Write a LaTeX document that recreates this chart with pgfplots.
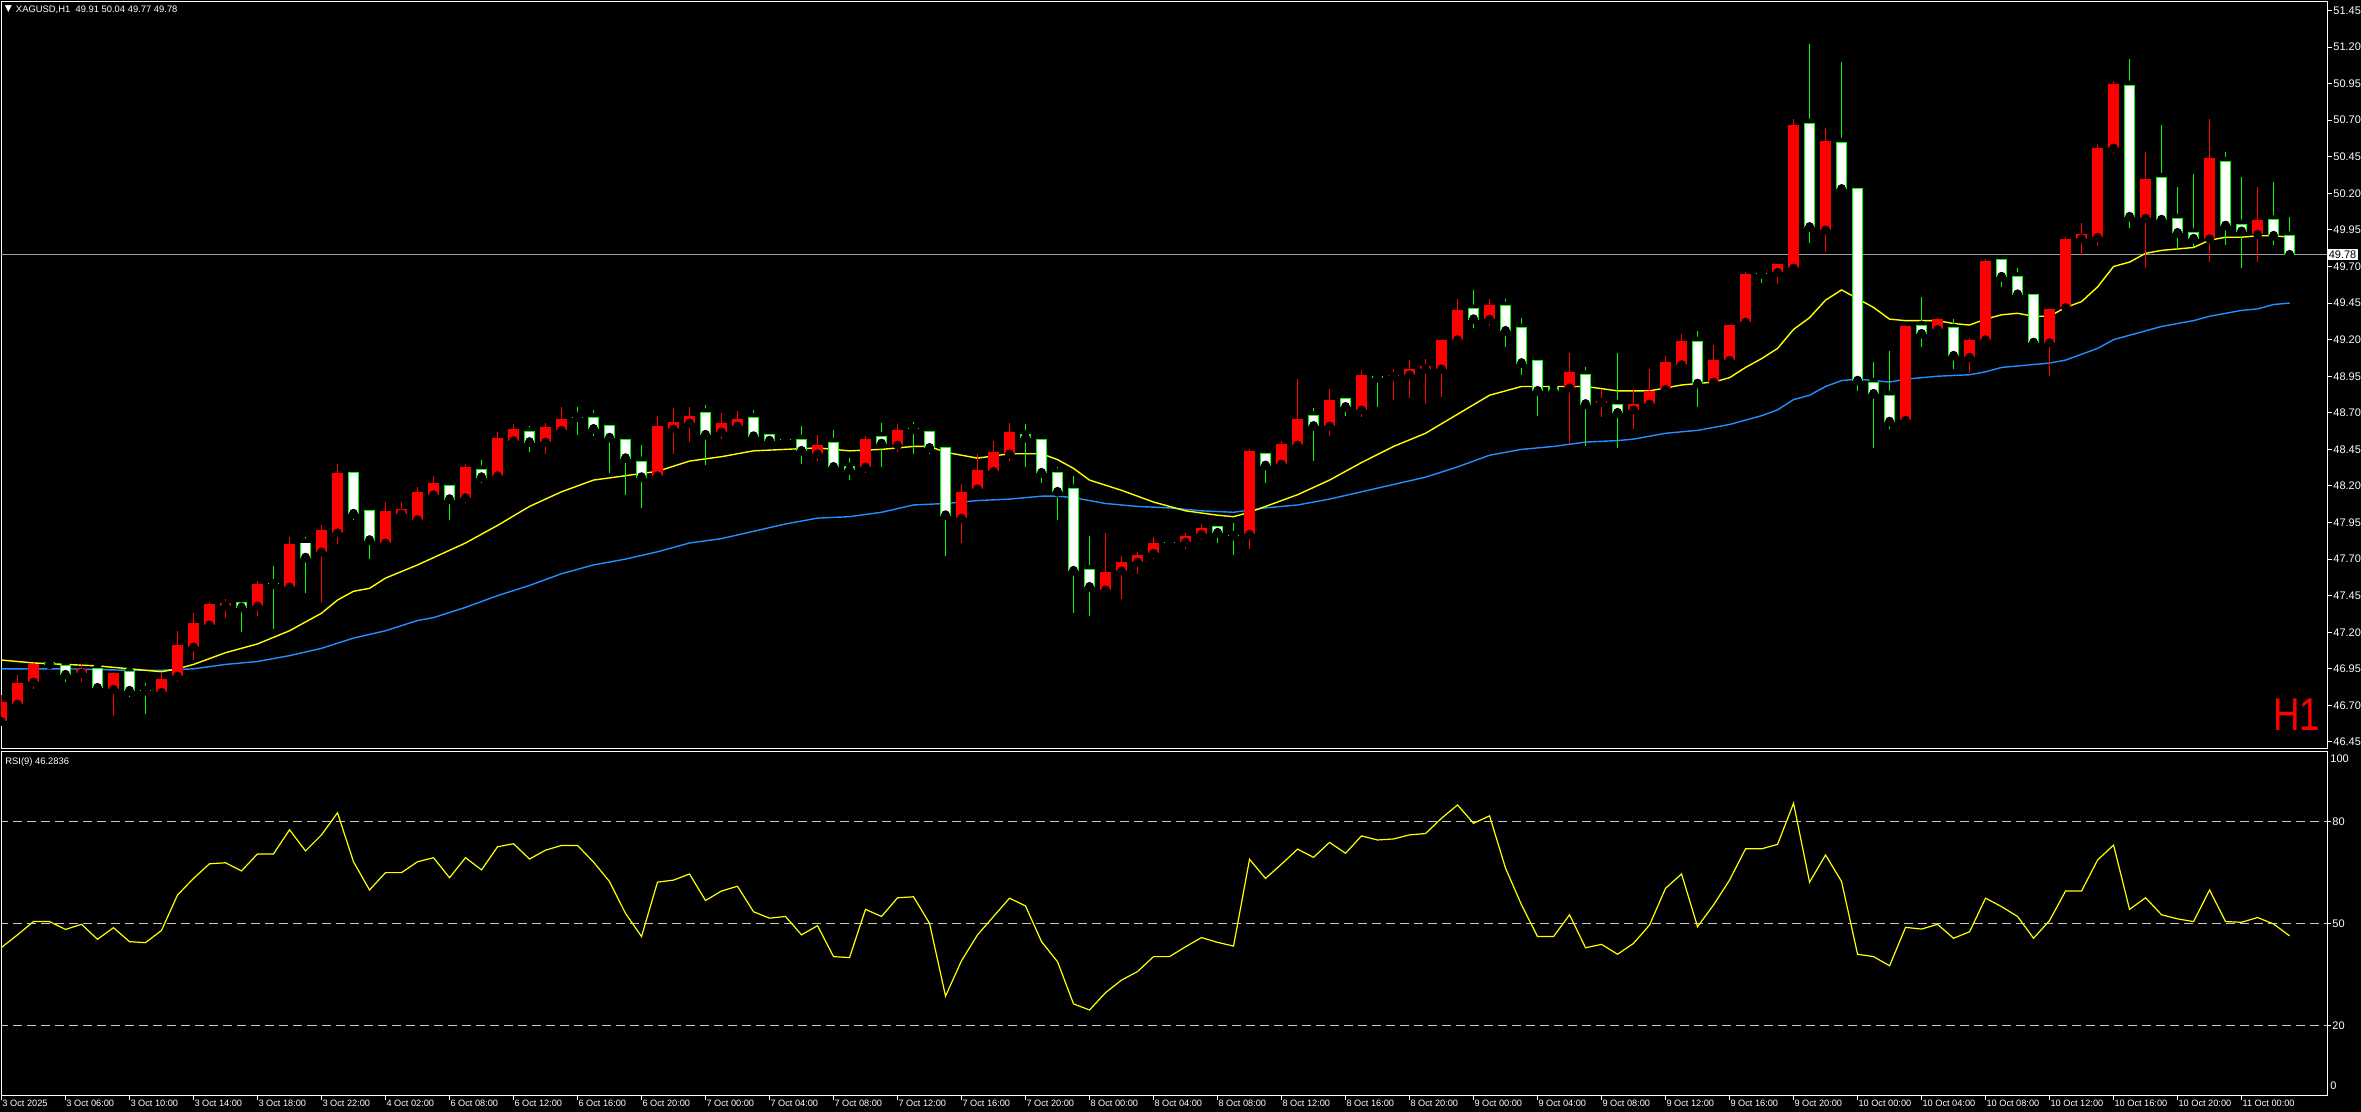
\documentclass[border=0pt]{standalone}
\usepackage{fontspec}
\setmainfont{Liberation Sans}
\newfontfamily\dejavu{DejaVu Sans}
\usepackage{graphicx}
\usepackage{pgfplots}
\usepackage{pgfplotstable}
\pgfplotsset{compat=1.18}

\definecolor{maYellow}{RGB}{255,255,0}
\definecolor{maBlue}{RGB}{30,144,255}
\definecolor{bullRed}{RGB}{255,0,0}
\definecolor{bearEdge}{RGB}{0,255,0}
\definecolor{priceLine}{RGB}{160,160,160}
\definecolor{levelGray}{RGB}{200,200,200}

% candles: i open high low close
\pgfplotstableread{
i o h l c
0 46.59 46.77 46.59 46.72
1 46.71 46.91 46.70 46.85
2 46.86 46.99 46.81 46.98
5 46.92 46.98 46.86 46.95
7 46.81 46.93 46.63 46.92
10 46.79 46.92 46.79 46.88
11 46.90 47.21 46.86 47.11
12 47.10 47.33 47.01 47.26
13 47.25 47.41 47.23 47.39
14 47.38 47.43 47.30 47.40
16 47.38 47.55 47.31 47.53
18 47.51 47.85 47.51 47.80
20 47.75 47.93 47.40 47.90
21 47.88 48.35 47.80 48.29
24 47.81 48.09 47.79 48.03
25 48.01 48.09 48.00 48.04
26 47.97 48.19 47.94 48.16
27 48.14 48.27 48.11 48.22
29 48.12 48.35 48.08 48.33
31 48.27 48.57 48.24 48.53
32 48.51 48.62 48.50 48.59
34 48.50 48.63 48.42 48.60
35 48.58 48.74 48.55 48.655
41 48.27 48.68 48.24 48.61
42 48.59 48.73 48.42 48.64
43 48.63 48.74 48.50 48.68
45 48.57 48.70 48.52 48.63
46 48.61 48.71 48.61 48.655
51 48.42 48.55 48.37 48.48
54 48.33 48.54 48.29 48.52
56 48.48 48.62 48.43 48.58
60 47.98 48.21 47.81 48.16
61 48.18 48.42 48.18 48.31
62 48.30 48.51 48.30 48.43
63 48.42 48.63 48.37 48.57
69 47.49 47.88 47.49 47.61
70 47.62 47.72 47.43 47.68
71 47.68 47.75 47.60 47.73
72 47.74 47.85 47.70 47.81
74 47.815 47.88 47.77 47.86
75 47.87 47.94 47.83 47.91
78 47.87 48.45 47.77 48.44
80 48.35 48.51 48.35 48.49
81 48.48 48.93 48.46 48.66
83 48.61 48.86 48.54 48.79
85 48.72 48.99 48.67 48.96
87 48.95 49.00 48.79 48.96
88 48.96 49.06 48.80 49.00
89 49.00 49.07 48.76 49.02
90 49.00 49.20 48.81 49.20
91 49.20 49.48 49.19 49.40
93 49.34 49.48 49.29 49.44
98 48.87 49.11 48.49 48.98
100 48.77 48.86 48.67 48.78
102 48.72 48.86 48.59 48.76
103 48.76 49.00 48.74 48.85
104 48.86 49.09 48.86 49.05
105 49.03 49.24 49.02 49.19
107 48.91 49.16 48.91 49.06
108 49.06 49.30 49.06 49.30
109 49.32 49.66 49.29 49.65
111 49.66 49.72 49.58 49.72
112 49.69 50.71 49.66 50.67
114 49.95 50.65 49.80 50.56
119 48.65 49.30 48.63 49.29
121 49.27 49.35 49.24 49.34
123 49.08 49.21 48.97 49.20
124 49.20 49.75 49.19 49.74
128 49.18 49.41 48.95 49.41
129 49.42 49.90 49.42 49.89
130 49.89 50.00 49.78 49.92
131 49.90 50.54 49.84 50.51
132 50.51 50.97 50.47 50.95
134 50.03 50.48 49.69 50.30
138 49.89 50.71 49.73 50.44
141 49.92 50.24 49.73 50.02
}\upcandles

\pgfplotstableread{
i o h l c
3 46.99 47.00 46.97 46.98
4 46.97 46.98 46.86 46.91
6 46.955 46.98 46.79 46.82
8 46.93 46.95 46.76 46.80
9 46.80 46.85 46.64 46.80
15 47.40 47.43 47.20 47.37
17 47.53 47.65 47.22 47.53
19 47.81 47.85 47.47 47.71
22 48.29 48.29 47.97 48.01
23 48.03 48.04 47.70 47.83
28 48.20 48.22 47.97 48.11
30 48.31 48.38 48.22 48.26
33 48.57 48.61 48.43 48.50
36 48.67 48.74 48.55 48.67
37 48.67 48.72 48.54 48.59
38 48.61 48.64 48.29 48.53
39 48.52 48.55 48.14 48.39
40 48.37 48.48 48.05 48.26
44 48.70 48.75 48.34 48.55
47 48.67 48.72 48.52 48.54
48 48.55 48.55 48.48 48.51
49 48.52 48.53 48.51 48.52
50 48.52 48.61 48.35 48.44
52 48.50 48.58 48.31 48.33
53 48.33 48.39 48.24 48.31
55 48.54 48.63 48.33 48.49
57 48.59 48.64 48.42 48.59
58 48.57 48.59 48.42 48.46
59 48.46 48.47 47.72 48.00
64 48.55 48.62 48.33 48.53
65 48.52 48.55 48.22 48.29
66 48.29 48.33 47.97 48.16
67 48.18 48.27 47.33 47.62
68 47.63 47.86 47.31 47.51
73 47.815 47.83 47.81 47.815
76 47.92 47.93 47.81 47.88
77 47.86 47.95 47.73 47.86
79 48.42 48.44 48.22 48.34
82 48.68 48.73 48.37 48.61
84 48.80 48.83 48.68 48.74
86 48.95 48.97 48.74 48.94
92 49.41 49.54 49.28 49.34
94 49.43 49.48 49.15 49.26
95 49.28 49.35 48.96 49.04
96 49.06 49.07 48.68 48.85
97 48.87 48.87 48.84 48.85
99 48.96 49.01 48.47 48.76
101 48.76 49.11 48.46 48.70
106 49.19 49.26 48.74 48.90
110 49.65 49.67 49.59 49.65
113 50.68 51.22 49.86 49.97
115 50.55 51.10 50.21 50.23
116 50.23 50.25 48.85 48.92
117 48.91 49.05 48.46 48.83
118 48.82 49.12 48.59 48.64
120 49.30 49.49 49.15 49.24
122 49.28 49.34 49.00 49.09
125 49.75 49.77 49.56 49.63
126 49.63 49.69 49.48 49.51
127 49.51 49.53 49.18 49.18
133 50.94 51.12 49.96 50.04
135 50.31 50.67 49.99 50.02
136 50.03 50.24 49.82 49.93
137 49.93 50.33 49.83 49.89
139 50.42 50.48 49.85 49.98
140 49.99 50.31 49.69 49.94
142 50.02 50.28 49.85 49.91
143 49.91 50.04 49.77 49.78
}\downcandles

\pgfplotsset{
  wick/.style={only marks, mark=none,
    error bars/.cd, y dir=both, y explicit, error mark=none,
    error bar style={draw=#1, line width=0.55pt}},
  body/.style 2 args={only marks, mark=none,
    error bars/.cd, y dir=plus, y explicit, error mark=none,
    error bar style={draw=#1, line width=#2}},
  mtpanel/.style={
    scale only axis, width=1163pt,
    xmin=-0.031, xmax=145.34,
    axis background/.style={fill=black},
    axis line style={white, line width=0.5pt},
    tick style={white, line width=0.5pt},
    tick align=outside, major tick length=2.5pt,
    ytick pos=right, yticklabel pos=right,
    yticklabel style={font=\fontsize{5.5}{6}\selectfont, text=white, anchor=west, inner sep=0pt, xshift=0.5pt},
    clip mode=individual,
  },
}

\begin{document}
\begin{tikzpicture}
\fill[black] (0,0) rectangle (1180.5pt,556pt);

% ---- price panel
\begin{axis}[mtpanel,
  at={(0.5pt,181.5pt)}, anchor=south west, height=373.5pt,
  ymin=46.402, ymax=51.508,
  xtick=\empty,
  ytick={46.45,46.70,46.95,47.20,47.45,47.70,47.95,48.20,48.45,48.70,48.95,49.20,49.45,49.70,49.95,50.20,50.45,50.70,50.95,51.20,51.45},
  yticklabels={46.45,46.70,46.95,47.20,47.45,47.70,47.95,48.20,48.45,48.70,48.95,49.20,49.45,49.70,49.95,50.20,50.45,50.70,50.95,51.20,51.45},
]
\addplot[priceLine, line width=0.5pt] coordinates {(-1,49.78) (146,49.78)};

% moving averages
\addplot[maBlue, line width=0.7pt] coordinates {
(0,46.95)(4,46.95)(8,46.94)(10,46.94)(12,46.95)(14,46.98)(16,47.00)(18,47.04)(20,47.09)(22,47.16)(24,47.21)(26,47.28)(27,47.30)(29,47.37)(31,47.45)(33,47.52)(35,47.60)(37,47.66)(39,47.70)(41,47.75)(43,47.81)(45,47.84)(47,47.89)(49,47.94)(51,47.98)(53,47.99)(55,48.02)(57,48.07)(59,48.08)(61,48.10)(63,48.11)(65,48.13)(66,48.13)(67,48.12)(69,48.08)(71,48.06)(73,48.05)(75,48.03)(77,48.02)(79,48.05)(81,48.07)(83,48.11)(85,48.16)(87,48.21)(89,48.26)(91,48.33)(93,48.41)(95,48.45)(97,48.47)(99,48.50)(101,48.51)(102,48.52)(104,48.56)(106,48.58)(108,48.62)(110,48.68)(111,48.72)(112,48.79)(113,48.82)(114,48.88)(115,48.92)(116,48.93)(117,48.92)(118,48.91)(119,48.93)(121,48.95)(123,48.96)(124,48.98)(125,49.01)(126,49.02)(128,49.04)(129,49.06)(130,49.10)(131,49.14)(132,49.20)(133,49.23)(134,49.26)(135,49.29)(136,49.31)(137,49.33)(138,49.36)(139,49.38)(140,49.40)(141,49.41)(142,49.44)(143,49.45)};
\addplot[maYellow, line width=0.7pt] coordinates {
(0,47.01)(2,46.99)(4,46.98)(6,46.97)(8,46.95)(10,46.93)(11,46.95)(12,46.98)(14,47.06)(16,47.12)(18,47.21)(20,47.33)(21,47.42)(22,47.48)(23,47.50)(24,47.57)(26,47.66)(27,47.71)(29,47.81)(31,47.93)(33,48.06)(35,48.16)(37,48.24)(39,48.27)(41,48.30)(43,48.37)(45,48.40)(47,48.44)(49,48.45)(51,48.46)(53,48.44)(55,48.45)(57,48.47)(58,48.47)(59,48.43)(61,48.39)(63,48.42)(65,48.42)(66,48.38)(67,48.32)(68,48.24)(70,48.17)(72,48.09)(74,48.03)(76,48.00)(77,47.99)(78,48.02)(79,48.06)(81,48.14)(83,48.24)(85,48.36)(87,48.47)(89,48.56)(91,48.69)(93,48.82)(95,48.88)(97,48.88)(99,48.88)(101,48.85)(103,48.85)(105,48.89)(107,48.91)(108,48.94)(109,49.01)(110,49.07)(111,49.14)(112,49.27)(113,49.35)(114,49.47)(115,49.54)(116,49.48)(117,49.42)(118,49.34)(119,49.33)(121,49.33)(122,49.31)(123,49.30)(124,49.34)(125,49.37)(126,49.38)(127,49.36)(128,49.36)(129,49.42)(130,49.46)(131,49.56)(132,49.70)(133,49.73)(134,49.79)(135,49.81)(136,49.82)(137,49.83)(138,49.88)(139,49.90)(140,49.90)(141,49.91)(142,49.91)(143,49.90)};

% candles: wicks, then bodies (red = close above open, white = close below open)
\addplot[wick=bullRed] table[x=i, y=o,
  y error plus expr=\thisrow{h}-\thisrow{o}, y error minus expr=\thisrow{o}-\thisrow{l}] {\upcandles};
\addplot[wick=bearEdge] table[x=i, y=o,
  y error plus expr=\thisrow{h}-\thisrow{o}, y error minus expr=\thisrow{o}-\thisrow{l}] {\downcandles};
\addplot[body={bullRed}{5.2pt}] table[x=i, y=o,
  y error plus expr=\thisrow{c}-\thisrow{o}] {\upcandles};
\addplot[body={bearEdge}{5.3pt}] table[x=i, y expr=\thisrow{c}-0.0034,
  y error plus expr=\thisrow{o}-\thisrow{c}+0.0068] {\downcandles};
\addplot[body={white}{4.3pt}] table[x=i, y expr=\thisrow{c}+0.0034,
  y error plus expr={max(\thisrow{o}-\thisrow{c}-0.0068,0)}] {\downcandles};

% current price tag
\node[fill=white, text=black, anchor=west, inner sep=0.7pt, font=\fontsize{5.5}{6}\selectfont]
  at (axis cs:145.34,49.78) {49.78};
\end{axis}

% ---- RSI panel
\begin{axis}[mtpanel,
  at={(0.5pt,8pt)}, anchor=south west, height=172pt,
  ymin=-0.79, ymax=100.38,
  ytick={20,50,80}, yticklabels={20,50,80},
  xtick={0,4,...,140}, xtick pos=left,
  xticklabels={3 Oct 2025,3 Oct 06:00,3 Oct 10:00,3 Oct 14:00,3 Oct 18:00,3 Oct 22:00,4 Oct 02:00,6 Oct 08:00,6 Oct 12:00,6 Oct 16:00,6 Oct 20:00,7 Oct 00:00,7 Oct 04:00,7 Oct 08:00,7 Oct 12:00,7 Oct 16:00,7 Oct 20:00,8 Oct 00:00,8 Oct 04:00,8 Oct 08:00,8 Oct 12:00,8 Oct 16:00,8 Oct 20:00,9 Oct 00:00,9 Oct 04:00,9 Oct 08:00,9 Oct 12:00,9 Oct 16:00,9 Oct 20:00,10 Oct 00:00,10 Oct 04:00,10 Oct 08:00,10 Oct 12:00,10 Oct 16:00,10 Oct 20:00,11 Oct 00:00},
  xticklabel style={font=\fontsize{4.6}{5}\selectfont, text=white, anchor=north west, inner sep=0pt, xshift=0.3pt},
  major tick length=2pt,
]
\addplot[levelGray, line width=0.5pt, dash pattern=on 4.5pt off 2.5pt] coordinates {(-1,80) (146,80)};
\addplot[levelGray, line width=0.5pt, dash pattern=on 4.5pt off 2.5pt] coordinates {(-1,50) (146,50)};
\addplot[levelGray, line width=0.5pt, dash pattern=on 4.5pt off 2.5pt] coordinates {(-1,20) (146,20)};
\addplot[maYellow, line width=0.6pt] coordinates {
(0,42.9)(1,46.6)(2,50.5)(3,50.5)(4,48.2)(5,49.7)(6,45.3)(7,48.7)(8,44.6)(9,44.3)(10,47.9)(11,58.3)(12,63.2)(13,67.5)(14,67.8)(15,65.4)(16,70.4)(17,70.4)(18,77.5)(19,71.3)(20,76.0)(21,82.5)(22,68.1)(23,59.8)(24,64.9)(25,64.9)(26,68.1)(27,69.3)(28,63.4)(29,69.3)(30,65.7)(31,72.5)(32,73.4)(33,68.9)(34,71.5)(35,72.9)(36,72.9)(37,68.0)(38,62.3)(39,52.9)(40,46.1)(41,62.1)(42,62.7)(43,64.5)(44,56.7)(45,59.5)(46,60.9)(47,53.4)(48,51.5)(49,52.0)(50,46.6)(51,49.3)(52,40.2)(53,39.9)(54,54.1)(55,52.0)(56,57.5)(57,57.8)(58,50.0)(59,28.6)(60,39.0)(61,46.6)(62,52.0)(63,57.4)(64,55.1)(65,44.6)(66,38.7)(67,26.3)(68,24.5)(69,29.6)(70,33.3)(71,35.8)(72,40.2)(73,40.2)(74,43.1)(75,45.8)(76,44.4)(77,43.3)(78,68.8)(79,63.2)(80,67.4)(81,71.8)(82,69.4)(83,73.8)(84,70.6)(85,75.7)(86,74.5)(87,74.8)(88,76.0)(89,76.4)(90,80.9)(91,84.8)(92,79.4)(93,81.6)(94,66.2)(95,55.4)(96,46.1)(97,46.1)(98,52.5)(99,42.8)(100,43.8)(101,40.9)(102,44.1)(103,49.5)(104,60.3)(105,64.5)(106,49.0)(107,55.4)(108,62.7)(109,71.9)(110,71.9)(111,73.2)(112,85.3)(113,62.1)(114,70.1)(115,62.3)(116,40.9)(117,40.2)(118,37.5)(119,48.8)(120,48.3)(121,49.7)(122,45.6)(123,47.5)(124,57.4)(125,54.9)(126,52.0)(127,45.6)(128,50.8)(129,59.5)(130,59.5)(131,68.6)(132,73.0)(133,54.1)(134,57.5)(135,52.5)(136,51.3)(137,50.5)(138,59.8)(139,50.5)(140,50.3)(141,51.7)(142,49.8)(143,46.3)};
\end{axis}

% texts
\node[inner sep=0pt, text=white, font=\dejavu\fontsize{4.6}{5}\selectfont] at (4.2pt,551.4pt) {▼};
\node[anchor=west, inner sep=0pt, text=white, font=\fontsize{4.7}{5}\selectfont] at (7.8pt,551.2pt)
  {XAGUSD,H1\ \ 49.91 50.04 49.77 49.78};
\node[anchor=west, inner sep=0pt, text=white, font=\fontsize{4.7}{5}\selectfont] at (2.5pt,175pt) {RSI(9) 46.2836};
\node[inner sep=0pt, text=bullRed, font=\fontsize{23}{24}\selectfont] at (1148.3pt,198.5pt) {\scalebox{0.8}[1]{H1}};
\node[anchor=west, inner sep=0pt, text=white, font=\fontsize{5.5}{6}\selectfont] at (1165pt,176.5pt) {100};
\node[anchor=west, inner sep=0pt, text=white, font=\fontsize{5.5}{6}\selectfont] at (1165pt,13.2pt) {0};

\pgfresetboundingbox
\useasboundingbox (0,0) rectangle (1180.5pt,556pt);
\end{tikzpicture}
\end{document}
